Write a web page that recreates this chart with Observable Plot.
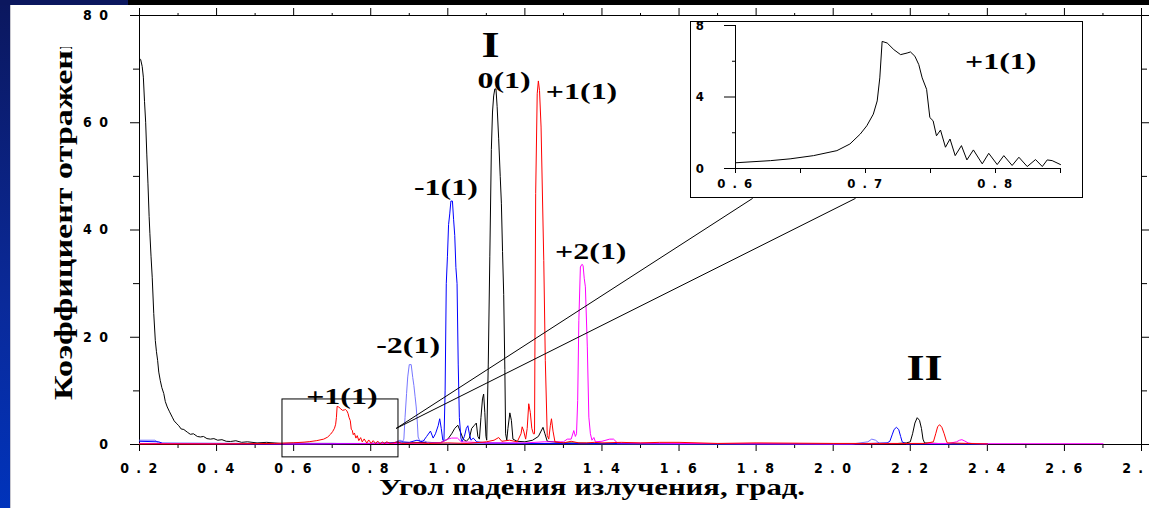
<!DOCTYPE html>
<html><head><meta charset="utf-8">
<script src="https://cdn.jsdelivr.net/npm/d3@7"></script>
<script src="https://cdn.jsdelivr.net/npm/@observablehq/plot@0.6"></script>
<style>
html,body{margin:0;padding:0;background:#fff;}
#wrap{position:relative;width:1149px;height:508px;overflow:hidden;background:#fff;}
#stripe{position:absolute;left:0;top:0;width:10px;height:508px;background:linear-gradient(to bottom,#0b175e,#0a2a9a 60%,#0033bb);border-right:1px solid #c8c8d0;}
#topband{position:absolute;left:0;top:0;width:1149px;height:5px;background:#000;}
#topnavy{position:absolute;left:0;top:0;width:128px;height:5px;background:#0b175e;}
#main{position:absolute;left:0;top:0;}
#inset{position:absolute;left:690px;top:21px;width:391px;height:175px;border:1px solid #000;background:#fff;overflow:hidden;}
svg text.tl{letter-spacing:1.5px;}
</style></head>
<body>
<div id="wrap"><div id="stripe"></div><div id="topband"></div><div id="topnavy"></div><div id="main"></div><div id="inset"></div></div>
<script>
// ---------- DATA ----------
const xTickVals = [0.2,0.4,0.6,0.8,1.0,1.2,1.4,1.6,1.8,2.0,2.2,2.4,2.6,2.8];
const xTickLabels = ["0 . 2","0 . 4","0 . 6","0 . 8","1 . 0","1 . 2","1 . 4","1 . 6","1 . 8","2 . 0","2 . 2","2 . 4","2 . 6","2 . 8"];
const xMinorVals = [0.3,0.5,0.7,0.9,1.1,1.3,1.5,1.7,1.9,2.1,2.3,2.5,2.7];
const yTickVals = [0,20,40,60,80];
const yTickLabels = ["0","2 0","4 0","6 0","8 0"];
const yMinorVals = [10,30,50,70];

const insetXTickVals = [0.6,0.65,0.7,0.75,0.8,0.85];
const insetXLabelVals = [0.6,0.7,0.8];
const insetXLabels = ["0 . 6","0 . 7","0 . 8"];
const insetYTickVals = [0,4,8];
const insetYLabels = ["0","4","8"];
const insetYMinorVals = [2,6];

// red +1(1) peak near 0.72 (also shown in inset)
const insetX = [0.600,0.627,0.642,0.660,0.678,0.688,0.696,0.701,0.706,0.709,0.711,0.7128,0.7167,0.7218,0.727,0.732,0.7346,0.738,0.741,0.7436,0.747,0.7495,0.752,0.7546,0.7577,0.7615,0.765,0.769,0.7738,0.778,0.783,0.7898,0.7948,0.8013,0.8064,0.8128,0.818,0.8244,0.8308,0.836,0.8398,0.8436,0.85];
const insetY = [0.32,0.44,0.54,0.72,1.0,1.37,1.93,2.39,3.04,3.78,5.07,7.11,7.02,6.65,6.37,6.46,6.52,6.28,5.81,5.07,4.43,2.85,2.67,1.83,2.15,1.19,1.65,0.72,1.28,0.48,1.04,0.26,0.85,0.22,0.72,0.17,0.63,0.11,0.5,0.11,0.48,0.44,0.22];

const blackX = [0.200,0.203,0.207,0.210,0.213,0.216,0.219,0.222,0.225,0.227,0.230,0.233,0.237,0.241,0.244,0.247,0.250,0.254,0.258,0.263,0.267,0.272,0.278,0.285,0.290,0.295,0.302,0.308,0.315,0.324,0.332,0.340,0.350,0.358,0.366,0.375,0.384,0.393,0.403,0.414,0.425,0.436,0.450,0.465,0.480,0.505,0.530,0.566,0.60,0.65,0.70,0.75,0.80,0.85,0.90,0.95,0.98,1.000,1.010,1.018,1.026,1.032,1.040,1.048,1.056,1.062,1.068,1.074,1.078,1.082,1.086,1.090,1.093,1.096,1.099,1.101,1.105,1.109,1.113,1.116,1.119,1.122,1.125,1.128,1.132,1.136,1.139,1.142,1.145,1.148,1.150,1.153,1.156,1.161,1.165,1.169,1.180,1.200,1.220,1.235,1.242,1.247,1.252,1.258,1.30,1.40,1.60,1.80,2.00,2.15,2.19,2.200,2.206,2.212,2.218,2.224,2.229,2.233,2.237,2.30,2.40];
const blackY = [72.0,71.8,70.5,68.5,64.0,60.1,54.0,48.6,42.5,39.3,35.0,31.2,24.4,19.4,17.3,15.7,13.5,11.9,10.6,9.5,8.0,7.0,6.1,5.1,4.4,4.0,3.5,2.9,2.8,2.3,1.9,2.0,1.5,1.4,1.5,1.1,1.0,1.1,0.8,0.9,0.6,0.56,0.7,0.4,0.5,0.3,0.4,0.2,0.25,0.2,0.2,0.15,0.2,0.2,0.3,0.4,0.3,1.0,2.0,3.0,3.6,2.5,1.0,0.6,1.2,3.0,3.5,4.0,1.5,1.0,5.0,8.5,9.4,6.0,1.5,0.8,15,35,55,62,65,66.3,66.3,63,57,50,45,36,28,14,2,0.8,3.0,5.9,4.5,1.0,0.6,0.5,0.8,1.5,2.5,3.2,2.0,0.6,0.3,0.2,0.15,0.15,0.1,0.1,0.3,0.5,2.0,4.0,5.0,4.5,3.0,1.0,0.3,0.1,0.1];

const blueX = [0.20,0.25,0.26,0.40,0.60,0.80,0.85,0.88,0.90,0.92,0.935,0.945,0.955,0.962,0.968,0.975,0.979,0.983,0.987,0.990,0.993,0.996,0.999,1.002,1.005,1.008,1.012,1.015,1.018,1.021,1.024,1.027,1.030,1.034,1.037,1.043,1.048,1.052,1.056,1.060,1.066,1.075,1.10,1.20,1.50,1.80,2.05,2.10,2.14,2.147,2.153,2.158,2.164,2.170,2.175,2.179,2.19,2.40];
const blueY = [0.6,0.5,0.2,0.15,0.1,0.2,0.3,0.5,0.4,0.8,0.5,1.5,2.5,1.2,2.0,3.5,4.8,3.0,0.8,0.8,10,30,35,41,43,45.4,45.4,42,39,33,30,15,5,1.2,0.5,1.5,3.0,3.5,2.0,0.8,1.2,0.5,0.3,0.2,0.15,0.1,0.1,0.2,0.3,0.6,1.8,2.8,3.2,2.8,1.5,0.5,0.1,0.1];

const lblueX = [0.20,0.24,0.25,0.50,0.80,0.86,0.876,0.883,0.886,0.889,0.893,0.896,0.900,0.905,0.909,0.912,0.915,0.918,0.921,0.923,0.928,0.935,0.95,1.00,1.50,2.05,2.09,2.10,2.11,2.12,2.40];
const lblueY = [0.8,0.8,0.3,0.2,0.2,0.3,0.8,0.6,1.0,5.0,9.5,12.6,14.9,14.9,12.5,11.0,9.0,7.0,4.0,1.4,0.5,0.8,0.3,0.2,0.1,0.1,0.5,1.0,0.8,0.2,0.1];

const magX = [0.20,0.60,0.90,0.98,1.00,1.01,1.025,1.035,1.10,1.20,1.25,1.30,1.31,1.32,1.327,1.331,1.334,1.337,1.340,1.344,1.348,1.351,1.354,1.357,1.362,1.366,1.370,1.374,1.379,1.383,1.40,1.42,1.43,1.44,1.60,2.00,2.30,2.32,2.328,2.334,2.34,2.35,2.36,2.40,2.70];
const magY = [0.2,0.1,0.2,0.3,1.0,1.2,1.2,0.5,0.3,0.3,0.5,0.5,1.0,1.0,2.6,1.5,2.0,8.2,23.1,33.1,33.6,33.4,31.0,29.4,18.2,5.1,2.0,0.8,1.3,0.5,0.6,1.0,1.0,0.3,0.2,0.1,0.2,0.5,0.8,0.9,0.7,0.3,0.2,0.15,0.15];

const redX = [0.20,0.40,0.55, ...insetX, 0.86,0.87,0.88,0.92,0.95,1.00,1.05,1.10,1.12,1.132,1.14,1.16,1.18,1.19,1.193,1.197,1.202,1.206,1.210,1.214,1.218,1.222,1.225,1.228,1.232,1.235,1.238,1.242,1.249,1.253,1.258,1.262,1.266,1.269,1.273,1.278,1.30,1.32,1.34,1.36,1.38,1.40,1.45,1.50,1.55,1.60,1.70,1.80,2.00,2.10,2.24,2.26,2.266,2.271,2.276,2.282,2.288,2.293,2.296,2.40];
const redY = [0.1,0.1,0.2, ...insetY, 0.3,0.5,0.2,0.3,0.2,0.3,0.2,0.5,0.8,1.3,0.6,0.8,0.5,2.0,3.3,2.5,1.0,3.0,7.6,6.0,3.0,2.0,2.0,46.8,65.4,67.8,66.0,59.2,34.3,15.7,1.7,1.0,3.5,4.8,2.5,0.5,0.3,0.6,0.3,0.3,0.4,0.3,0.4,0.3,0.4,0.4,0.2,0.3,0.2,0.2,0.2,0.5,2.0,3.3,3.7,3.2,2.0,0.8,0.3,0.1];

const zoomBoxX = [0.571, 0.872];
const zoomBoxY = [-2.4, 8.4];
const connectorStart = [0.866, 3.0];
const connectorEndX = [1.791, 2.058];
const connectorEndY = 45.9;

const annoLabels = ["0(1)","+1(1)","-1(1)","+2(1)","-2(1)","+1(1)"];
const annoX = [1.146,1.347,0.995,1.371,0.897,0.725];
const annoY = [66.4,64.4,46.5,34.5,17.0,7.6];
const romanLabels = ["I","II"];
const romanX = [1.111,2.237];
const romanY = [72.2,12.1];
const insetLabel = ["+1(1)"];
const insetLabelX = [0.804];
const insetLabelY = [5.56];

const xTitle = "Угол падения излучения, град.";
const yTitle = "Коэффициент отражения";

// ---------- helpers ----------
const pts = (xs, ys) => xs.map((x, i) => ({x, y: ys[i]}));
const tickFont = {fontFamily: "'Liberation Sans Narrow','DejaVu Sans Condensed','Arial Narrow',sans-serif", fontWeight: "bold", fontSize: 14};
const serif = "'Liberation Serif','Times New Roman',serif";
const none = () => "";

const main = Plot.plot({
  width: 1149, height: 508,
  marginLeft: 139, marginRight: 8, marginTop: 15, marginBottom: 64,
  x: {domain: [0.2, 2.8]},
  y: {domain: [0, 80]},
  style: {background: "transparent", overflow: "visible", color: "#000"},
  marks: [
    Plot.frame({stroke: "#000", strokeWidth: 1}),
    Plot.axisX({anchor: "bottom", ticks: xTickVals, tickSize: 7, tickPadding: 12, tickFormat: d => xTickLabels[xTickVals.indexOf(d)], label: null, ...tickFont}),
    Plot.axisX({anchor: "bottom", ticks: xMinorVals, tickSize: 4, tickFormat: none, label: null}),
    Plot.axisX({anchor: "top", ticks: xTickVals, tickSize: 8, tickFormat: none, label: null}),
    Plot.axisX({anchor: "top", ticks: xMinorVals, tickSize: 3, tickFormat: none, label: null}),
    Plot.axisY({anchor: "left", ticks: yTickVals, tickSize: 9, tickPadding: 21, tickFormat: d => yTickLabels[yTickVals.indexOf(d)], label: null, ...tickFont}),
    Plot.axisY({anchor: "left", ticks: yMinorVals, tickSize: 6, tickFormat: none, label: null}),
    Plot.axisY({anchor: "right", ticks: yTickVals, tickSize: 8, tickFormat: none, label: null}),
    Plot.axisY({anchor: "right", ticks: yMinorVals, tickSize: 5, tickFormat: none, label: null}),
    Plot.line(pts(blackX, blackY), {x: "x", y: "y", stroke: "#000", strokeWidth: 1}),
    Plot.line(pts(lblueX, lblueY), {x: "x", y: "y", stroke: "#7676ff", strokeWidth: 1}),
    Plot.line(pts(blueX, blueY), {x: "x", y: "y", stroke: "#0000ff", strokeWidth: 1}),
    Plot.line(pts(magX, magY), {x: "x", y: "y", stroke: "#ff00ff", strokeWidth: 1}),
    Plot.line(pts(redX, redY), {x: "x", y: "y", stroke: "#ff0000", strokeWidth: 1}),
    Plot.rect([{x1: zoomBoxX[0], x2: zoomBoxX[1], y1: zoomBoxY[0], y2: zoomBoxY[1]}], {x1: "x1", x2: "x2", y1: "y1", y2: "y2", fill: "none", stroke: "#000", strokeWidth: 1}),
    Plot.link(connectorEndX.map(x2 => ({x1: connectorStart[0], y1: connectorStart[1], x2, y2: connectorEndY})), {x1: "x1", y1: "y1", x2: "x2", y2: "y2", stroke: "#000", strokeWidth: 1}),
    Plot.text(annoLabels.map((t, i) => ({t, x: annoX[i], y: annoY[i]})), {x: "x", y: "y", text: "t", lineAnchor: "bottom", textAnchor: "middle", fontFamily: serif, fontWeight: "bold", fontSize: 24, fill: "#000"}),
    Plot.text(romanLabels.map((t, i) => ({t, x: romanX[i], y: romanY[i]})), {x: "x", y: "y", text: "t", lineAnchor: "bottom", textAnchor: "middle", fontFamily: serif, fontWeight: "bold", fontSize: 35, fill: "#000"})
  ]
});
document.getElementById("main").appendChild(main);

const inset = Plot.plot({
  width: 391, height: 175,
  marginLeft: 44, marginRight: 22, marginTop: 3, marginBottom: 29,
  x: {domain: [0.6, 0.85]},
  y: {domain: [0, 8]},
  style: {background: "transparent", overflow: "visible", color: "#000"},
  marks: [
    Plot.ruleX([0.6], {stroke: "#000", strokeWidth: 1}),
    Plot.ruleY([0], {stroke: "#000", strokeWidth: 1}),
    Plot.axisX({anchor: "bottom", ticks: insetXTickVals, tickSize: 5, tickPadding: 5, tickFormat: d => { const i = insetXLabelVals.indexOf(d); return i < 0 ? "" : insetXLabels[i]; }, label: null, ...tickFont, fontSize: 13}),
    Plot.axisY({anchor: "left", ticks: insetYTickVals, tickSize: 11, tickPadding: 19, tickFormat: d => insetYLabels[insetYTickVals.indexOf(d)], label: null, ...tickFont, fontSize: 13}),
    Plot.axisY({anchor: "left", ticks: insetYMinorVals, tickSize: 3, tickFormat: none, label: null}),
    Plot.line(pts(insetX, insetY), {x: "x", y: "y", stroke: "#000", strokeWidth: 1}),
    Plot.text(insetLabel.map((t, i) => ({t, x: insetLabelX[i], y: insetLabelY[i]})), {x: "x", y: "y", text: "t", lineAnchor: "bottom", textAnchor: "middle", fontFamily: serif, fontWeight: "bold", fontSize: 24, fill: "#000"})
  ]
});
inset.style.display = "block";
document.getElementById("inset").appendChild(inset);

// tick label letter spacing
for (const svg of [main, inset]) {
  d3.select(svg).selectAll('g[aria-label$="tick label"] text').classed("tl", true);
}

// stretched bold serif texts
function stretch(sel, k) {
  sel.each(function () {
    const L = this.getComputedTextLength();
    this.setAttribute("textLength", (L * k).toFixed(1));
    this.setAttribute("lengthAdjust", "spacingAndGlyphs");
  });
}
stretch(d3.select(main).selectAll('g[aria-label="text"] text'), 1.33);
stretch(d3.select(inset).selectAll('g[aria-label="text"] text'), 1.33);

// axis titles
const s = d3.select(main);
s.append("text")
  .attr("x", 379).attr("y", 495)
  .attr("text-anchor", "start")
  .attr("font-family", serif).attr("font-weight", "bold").attr("font-size", 23)
  .attr("textLength", 426).attr("lengthAdjust", "spacingAndGlyphs")
  .attr("fill", "#000")
  .text(xTitle);
s.append("clipPath").attr("id", "yclip").append("rect")
  .attr("x", 0).attr("y", 47).attr("width", 130).attr("height", 461);
s.append("g").attr("clip-path", "url(#yclip)")
  .append("text")
  .attr("transform", "translate(72,400) rotate(-90)")
  .attr("text-anchor", "start")
  .attr("font-family", serif).attr("font-weight", "bold").attr("font-size", 25)
  .attr("textLength", 388).attr("lengthAdjust", "spacingAndGlyphs")
  .attr("fill", "#000")
  .text(yTitle);
</script>
</body></html>
